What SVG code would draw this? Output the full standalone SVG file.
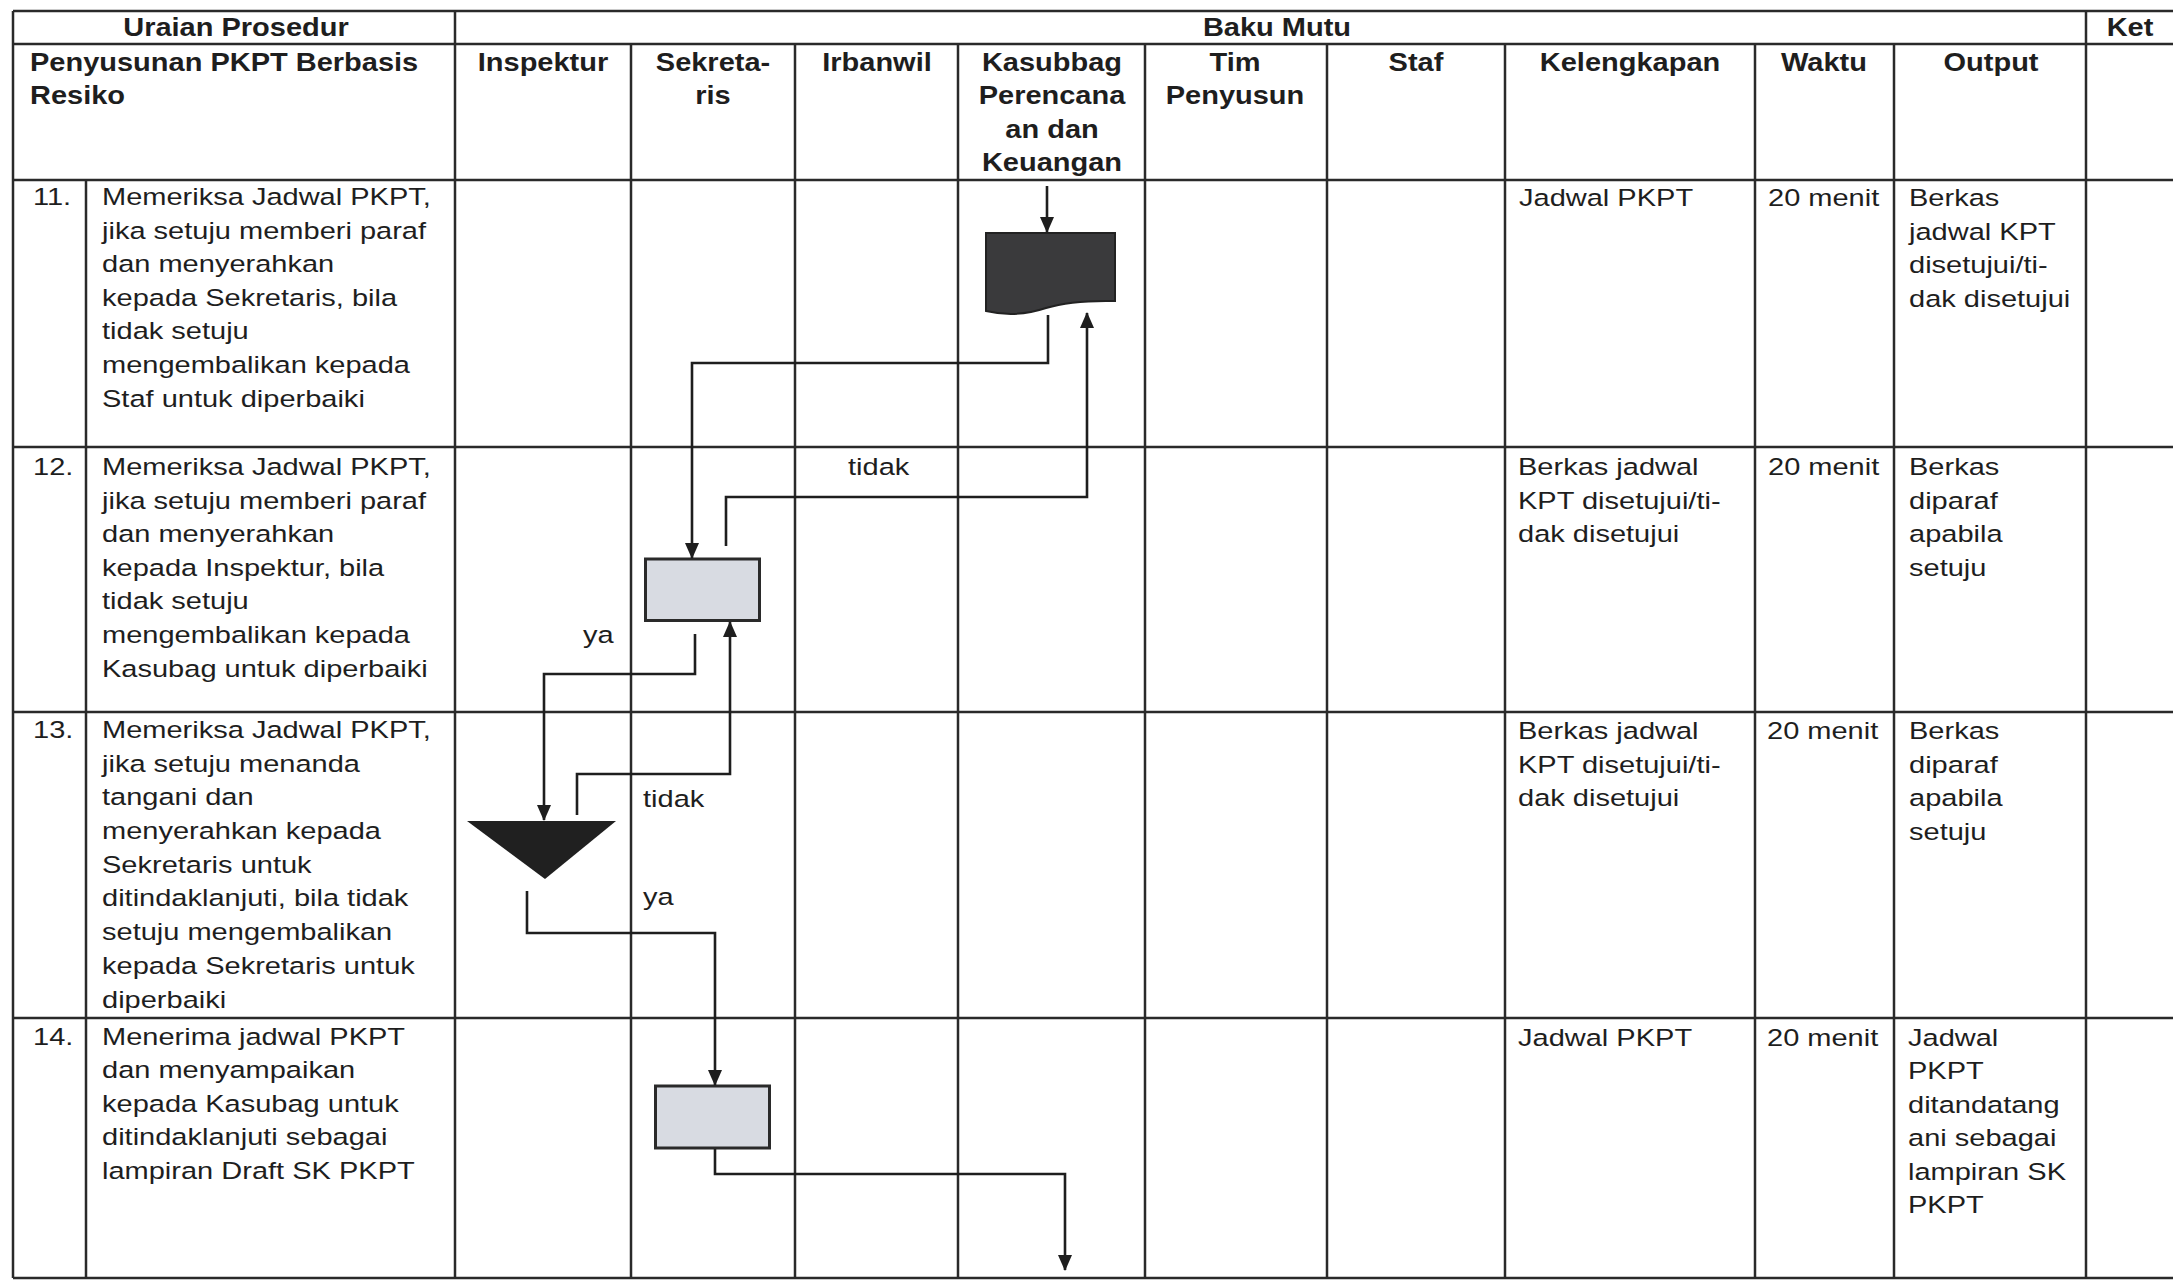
<svg xmlns="http://www.w3.org/2000/svg" width="2173" height="1281" viewBox="0 0 2173 1281">
<style>
.g{stroke:#2a2a2a;stroke-width:2.5;fill:none}
.t{font-family:"Liberation Sans",Arial,sans-serif;font-size:23.5px;fill:#1e1e1e}
.b{font-weight:bold;font-size:25px}
.c{text-anchor:middle}
.cn{stroke:#1e1e1e;stroke-width:2.6;fill:none;marker-end:url(#ah)}
</style>
<defs>
<marker id="ah" viewBox="0 0 16 14" refX="15" refY="7" markerWidth="16" markerHeight="14" markerUnits="userSpaceOnUse" orient="auto">
<path d="M0,0 L16,7 L0,14 z" fill="#1e1e1e"/>
</marker>
</defs>
<rect width="2173" height="1281" fill="#ffffff"/>
<g id="grid" class="g">
<line x1="13" y1="11" x2="2173" y2="11"/>
<line x1="13" y1="44" x2="2173" y2="44"/>
<line x1="13" y1="180" x2="2173" y2="180"/>
<line x1="13" y1="447" x2="2173" y2="447"/>
<line x1="13" y1="712" x2="2173" y2="712"/>
<line x1="13" y1="1018" x2="2173" y2="1018"/>
<line x1="13" y1="1278" x2="2173" y2="1278"/>
<line x1="13" y1="11" x2="13" y2="1278"/>
<line x1="86" y1="180" x2="86" y2="1278"/>
<line x1="455" y1="11" x2="455" y2="1278"/>
<line x1="631" y1="44" x2="631" y2="1278"/>
<line x1="795" y1="44" x2="795" y2="1278"/>
<line x1="958" y1="44" x2="958" y2="1278"/>
<line x1="1145" y1="44" x2="1145" y2="1278"/>
<line x1="1327" y1="44" x2="1327" y2="1278"/>
<line x1="1505" y1="44" x2="1505" y2="1278"/>
<line x1="1755" y1="44" x2="1755" y2="1278"/>
<line x1="1894" y1="44" x2="1894" y2="1278"/>
<line x1="2086" y1="11" x2="2086" y2="1278"/>
</g>
<g id="header">
<text class="t b c" transform="translate(236,36) scale(1.16,1)">Uraian Prosedur</text>
<text class="t b c" transform="translate(1277,36) scale(1.16,1)">Baku Mutu</text>
<text class="t b c" transform="translate(2130,36) scale(1.16,1)">Ket</text>
<text class="t b" transform="translate(30,71) scale(1.16,1)"><tspan x="0">Penyusunan PKPT Berbasis</tspan><tspan x="0" dy="33.4">Resiko</tspan></text>
<text class="t b c" transform="translate(543,71) scale(1.16,1)">Inspektur</text>
<text class="t b c" transform="translate(713,71) scale(1.16,1)"><tspan x="0">Sekreta-</tspan><tspan x="0" dy="33.4">ris</tspan></text>
<text class="t b c" transform="translate(877,71) scale(1.16,1)">Irbanwil</text>
<text class="t b c" transform="translate(1052,71) scale(1.16,1)"><tspan x="0">Kasubbag</tspan><tspan x="0" dy="33.4">Perencana</tspan><tspan x="0" dy="33.4">an dan</tspan><tspan x="0" dy="33.4">Keuangan</tspan></text>
<text class="t b c" transform="translate(1235,71) scale(1.16,1)"><tspan x="0">Tim</tspan><tspan x="0" dy="33.4">Penyusun</tspan></text>
<text class="t b c" transform="translate(1416,71) scale(1.16,1)">Staf</text>
<text class="t b c" transform="translate(1630,71) scale(1.16,1)">Kelengkapan</text>
<text class="t b c" transform="translate(1824,71) scale(1.16,1)">Waktu</text>
<text class="t b c" transform="translate(1991,71) scale(1.16,1)">Output</text>
</g>
<g id="row11">
<text class="t" transform="translate(33,205) scale(1.235,1)">11.</text>
<text class="t" transform="translate(102,205) scale(1.235,1)"><tspan x="0">Memeriksa Jadwal PKPT,</tspan><tspan x="0" dy="33.6">jika setuju memberi paraf</tspan><tspan x="0" dy="33.6">dan menyerahkan</tspan><tspan x="0" dy="33.6">kepada Sekretaris, bila</tspan><tspan x="0" dy="33.6">tidak setuju</tspan><tspan x="0" dy="33.6">mengembalikan kepada</tspan><tspan x="0" dy="33.6">Staf untuk diperbaiki</tspan></text>
<text class="t" transform="translate(1519,206) scale(1.235,1)">Jadwal PKPT</text>
<text class="t" transform="translate(1768,206) scale(1.235,1)">20 menit</text>
<text class="t" transform="translate(1909,206) scale(1.235,1)"><tspan x="0">Berkas</tspan><tspan x="0" dy="33.6">jadwal KPT</tspan><tspan x="0" dy="33.6">disetujui/ti-</tspan><tspan x="0" dy="33.6">dak disetujui</tspan></text>
</g>
<g id="row12">
<text class="t" transform="translate(33,475) scale(1.235,1)">12.</text>
<text class="t" transform="translate(102,475) scale(1.235,1)"><tspan x="0">Memeriksa Jadwal PKPT,</tspan><tspan x="0" dy="33.6">jika setuju memberi paraf</tspan><tspan x="0" dy="33.6">dan menyerahkan</tspan><tspan x="0" dy="33.6">kepada Inspektur, bila</tspan><tspan x="0" dy="33.6">tidak setuju</tspan><tspan x="0" dy="33.6">mengembalikan kepada</tspan><tspan x="0" dy="33.6">Kasubag untuk diperbaiki</tspan></text>
<text class="t" transform="translate(1518,475) scale(1.235,1)"><tspan x="0">Berkas jadwal</tspan><tspan x="0" dy="33.6">KPT disetujui/ti-</tspan><tspan x="0" dy="33.6">dak disetujui</tspan></text>
<text class="t" transform="translate(1768,475) scale(1.235,1)">20 menit</text>
<text class="t" transform="translate(1909,475) scale(1.235,1)"><tspan x="0">Berkas</tspan><tspan x="0" dy="33.6">diparaf</tspan><tspan x="0" dy="33.6">apabila</tspan><tspan x="0" dy="33.6">setuju</tspan></text>
</g>
<g id="row13">
<text class="t" transform="translate(33,738) scale(1.235,1)">13.</text>
<text class="t" transform="translate(102,738) scale(1.235,1)"><tspan x="0">Memeriksa Jadwal PKPT,</tspan><tspan x="0" dy="33.7">jika setuju menanda</tspan><tspan x="0" dy="33.7">tangani dan</tspan><tspan x="0" dy="33.7">menyerahkan kepada</tspan><tspan x="0" dy="33.7">Sekretaris untuk</tspan><tspan x="0" dy="33.7">ditindaklanjuti, bila tidak</tspan><tspan x="0" dy="33.7">setuju mengembalikan</tspan><tspan x="0" dy="33.7">kepada Sekretaris untuk</tspan><tspan x="0" dy="33.7">diperbaiki</tspan></text>
<text class="t" transform="translate(1518,739) scale(1.235,1)"><tspan x="0">Berkas jadwal</tspan><tspan x="0" dy="33.6">KPT disetujui/ti-</tspan><tspan x="0" dy="33.6">dak disetujui</tspan></text>
<text class="t" transform="translate(1767,739) scale(1.235,1)">20 menit</text>
<text class="t" transform="translate(1909,739) scale(1.235,1)"><tspan x="0">Berkas</tspan><tspan x="0" dy="33.6">diparaf</tspan><tspan x="0" dy="33.6">apabila</tspan><tspan x="0" dy="33.6">setuju</tspan></text>
</g>
<g id="row14">
<text class="t" transform="translate(33,1045) scale(1.235,1)">14.</text>
<text class="t" transform="translate(102,1045) scale(1.235,1)"><tspan x="0">Menerima jadwal PKPT</tspan><tspan x="0" dy="33.4">dan menyampaikan</tspan><tspan x="0" dy="33.4">kepada Kasubag untuk</tspan><tspan x="0" dy="33.4">ditindaklanjuti sebagai</tspan><tspan x="0" dy="33.4">lampiran Draft SK PKPT</tspan></text>
<text class="t" transform="translate(1518,1046) scale(1.235,1)">Jadwal PKPT</text>
<text class="t" transform="translate(1767,1046) scale(1.235,1)">20 menit</text>
<text class="t" transform="translate(1908,1046) scale(1.235,1)"><tspan x="0">Jadwal</tspan><tspan x="0" dy="33.4">PKPT</tspan><tspan x="0" dy="33.4">ditandatang</tspan><tspan x="0" dy="33.4">ani sebagai</tspan><tspan x="0" dy="33.4">lampiran SK</tspan><tspan x="0" dy="33.4">PKPT</tspan></text>
</g>
<g id="doc-kasubbag">
<path d="M986,233 H1115 V301 Q1072,300 1046,308 Q1016,318 986,311 Z" fill="#3a3a3c" stroke="#222" stroke-width="2"/>
</g>
<g id="box-sekretaris-1">
<rect x="645.5" y="559" width="114" height="61.5" fill="#d8dbe2" stroke="#2a2a2a" stroke-width="3"/>
</g>
<g id="decision-inspektur">
<polygon points="467,821 616,821 545,879" fill="#202020"/>
</g>
<g id="box-sekretaris-2">
<rect x="655.5" y="1086" width="114" height="62" fill="#d8dbe2" stroke="#2a2a2a" stroke-width="3"/>
</g>
<g id="connectors">
<path class="cn" d="M1047,186 V232"/>
<path class="cn" d="M1048,315 V363 H692 V558"/>
<path class="cn" d="M726,546 V497 H1087 V313"/>
<path class="cn" d="M695,634 V674 H544 V820"/>
<path class="cn" d="M577,815 V774 H730 V622"/>
<path class="cn" d="M527,891 V933 H715 V1085"/>
<path class="cn" d="M715,1149 V1174 H1065 V1270"/>
</g>
<g id="labels">
<text class="t" transform="translate(848,475) scale(1.235,1)">tidak</text>
<text class="t" transform="translate(583,643) scale(1.235,1)">ya</text>
<text class="t" transform="translate(643,807) scale(1.235,1)">tidak</text>
<text class="t" transform="translate(643,905) scale(1.235,1)">ya</text>
</g>
</svg>
